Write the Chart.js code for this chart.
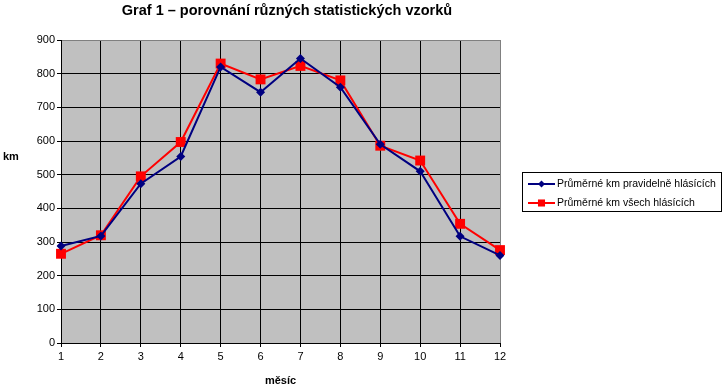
<!DOCTYPE html>
<html><head><meta charset="utf-8">
<script src="https://cdn.jsdelivr.net/npm/chart.js@4/dist/chart.umd.min.js"></script>
<style>html,body{margin:0;padding:0;background:#fff;overflow:hidden}#wrap{width:724px;height:390px;position:relative}</style>
</head><body><div id="wrap"><canvas id="c" width="724" height="390"></canvas></div>
<script>
const months = ['1','2','3','4','5','6','7','8','9','10','11','12'];
const regularKm = [288, 318, 473, 554, 820, 745, 845, 760, 590, 510, 317, 260];
const allKm = [265, 320, 495, 597, 830, 783, 823, 780, 586, 542, 354, 276];
const seriesNames = ['Průměrné km pravidelně hlásících', 'Průměrné km všech hlásících'];
const chartTitle = 'Graf 1 – porovnání různých statistických vzorků';
const xTitle = 'měsíc';
const yTitle = 'km';
const yMin = 0, yMax = 900, yStep = 100;

const FONT = 'Arial, "Liberation Sans", sans-serif';
const BLUE = '#000080', RED = '#FF0000';

const deco = {
  id: 'deco',
  beforeDraw(chart) {
    const {ctx, chartArea: a} = chart;
    ctx.save();
    ctx.fillStyle = '#fff';
    ctx.fillRect(0, 0, chart.width, chart.height);
    ctx.fillStyle = '#C0C0C0';
    ctx.fillRect(a.left, a.top, a.right - a.left, a.bottom - a.top);
    ctx.restore();
  },
  afterDraw(chart) {
    const {ctx, chartArea: a} = chart;
    ctx.save();
    ctx.fillStyle = '#000';
    ctx.textBaseline = 'middle';
    ctx.textAlign = 'center';
    ctx.font = 'bold 14.5px ' + FONT;
    ctx.fillText(chartTitle, 287, 11);
    ctx.font = 'bold 11px ' + FONT;
    ctx.fillText(xTitle, (a.left + a.right) / 2, 381);
    ctx.textAlign = 'left';
    ctx.fillText(yTitle, 3, 157);
    // legend
    ctx.strokeStyle = '#000';
    ctx.lineWidth = 1;
    ctx.strokeRect(522.5, 172.5, 199, 39);
    const rows = [
      {y: 184, color: BLUE, style: 'rectRot', r: 3.5},
      {y: 203, color: RED, style: 'rect', r: 5}
    ];
    ctx.font = '10.5px ' + FONT;
    rows.forEach((row, i) => {
      ctx.strokeStyle = row.color;
      ctx.lineWidth = 2;
      ctx.beginPath();
      ctx.moveTo(528, row.y);
      ctx.lineTo(555, row.y);
      ctx.stroke();
      ctx.fillStyle = row.color;
      Chart.helpers.drawPoint(ctx, {pointStyle: row.style, radius: row.r, borderWidth: 0}, 541.5, row.y);
      ctx.fillStyle = '#000';
      ctx.fillText(seriesNames[i], 557, row.y);
    });
    ctx.restore();
  }
};

new Chart(document.getElementById('c'), {
  type: 'line',
  data: {
    labels: months,
    datasets: [
      {label: seriesNames[0], data: regularKm, borderColor: BLUE, backgroundColor: BLUE,
       borderWidth: 2, pointStyle: 'rectRot', pointRadius: 4.5, pointBorderWidth: 0, tension: 0},
      {label: seriesNames[1], data: allKm, borderColor: RED, backgroundColor: RED,
       borderWidth: 2, pointStyle: 'rect', pointRadius: 7, pointBorderWidth: 0, tension: 0}
    ]
  },
  options: {
    responsive: false,
    animation: false,
    devicePixelRatio: 1,
    layout: {padding: {top: 40, right: 224, left: 0, bottom: 0}},
    plugins: {legend: {display: false}, title: {display: false}, tooltip: {enabled: false}},
    events: [],
    scales: {
      x: {
        type: 'category',
        offset: false,
        afterFit(s) { s.height = 47; },
        grid: {color: (c) => c.index === months.length - 1 ? '#808080' : '#000', lineWidth: 1,
               tickLength: 4, tickColor: '#000', drawTicks: true},
        border: {color: '#000', width: 1},
        ticks: {color: '#000', font: {family: FONT, size: 11}, padding: 3, maxRotation: 0, autoSkip: false}
      },
      y: {
        min: yMin, max: yMax,
        afterFit(s) { s.width = 61; },
        grid: {color: (c) => c.tick && c.tick.value === yMax ? '#808080' : '#000', lineWidth: 1,
               tickLength: 4, tickColor: '#000'},
        border: {color: '#000', width: 1},
        ticks: {stepSize: yStep, color: '#000', font: {family: FONT, size: 11}, padding: 2}
      }
    }
  },
  plugins: [deco]
});
</script></body></html>
